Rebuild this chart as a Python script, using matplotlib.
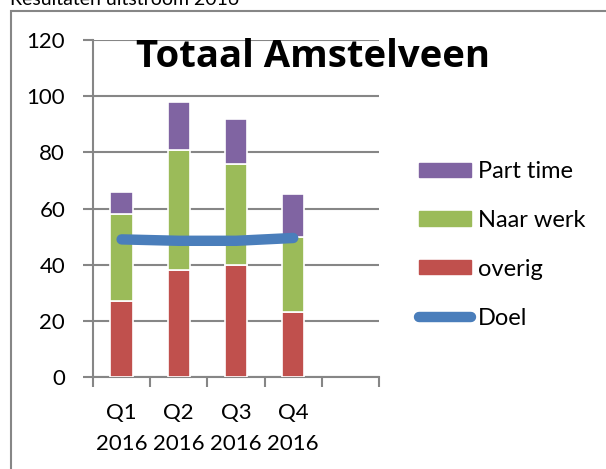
import numpy as np
import matplotlib as mpl
mpl.use('agg')
import matplotlib.pyplot as plt
from matplotlib.patches import Rectangle
from matplotlib.lines import Line2D

# data
quarters = ['Q1\n2016', 'Q2\n2016', 'Q3\n2016', 'Q4\n2016']
overig = [27, 38, 40, 23]
naar_werk = [31, 43, 36, 27]
part_time = [8, 17, 16, 15]
doel = [49, 48.5, 48.5, 49.5]
n_slots = 5  # Excel left one empty category at the end

RED = '#c0504d'
GREEN = '#9bbb59'
PURPLE = '#8064a2'
BLUE = '#4a7ebb'
GRID = '#868686'

# Lato is the closest to Calibri (Carlito is based on it)
plt.rcParams['font.family'] = ['Lato', 'DejaVu Sans']

W, H = 606, 469
fig = plt.figure(figsize=(W / 100, H / 100), dpi=100)

# outer chart frame (cut off on right/bottom)
fig.patches.append(Rectangle((11 / W, -0.1), 2.0, 1 - 11 / H + 0.1,
                             transform=fig.transFigure, fill=False,
                             edgecolor=GRID, lw=1.5))
fig.text(10 / W, 1 - 5 / H, 'Resultaten uitstroom 2016', fontsize=14,
         va='baseline', ha='left')

ax = fig.add_axes([93 / W, 1 - 377 / H, 286 / W, 337 / H])

x = np.arange(len(quarters))
w = 0.39
ax.bar(x, overig, w, color=RED, edgecolor='white', lw=1.2, zorder=3)
ax.bar(x, naar_werk, w, bottom=overig, color=GREEN, edgecolor='white', lw=1.2, zorder=3)
bot2 = np.array(overig) + np.array(naar_werk)
ax.bar(x, part_time, w, bottom=bot2, color=PURPLE, edgecolor='white', lw=1.2, zorder=3)
ax.plot(x, doel, color=BLUE, lw=7.5, solid_capstyle='round', zorder=4)

ax.set_xlim(-0.5, n_slots - 0.5)
ax.set_ylim(0, 120)
ax.set_yticks(range(0, 121, 20))
ax.yaxis.grid(True, color=GRID, lw=1.5, zorder=0)
ax.set_axisbelow(True)

ax.set_xticks(x)
ax.set_xticklabels(quarters, fontsize=16, linespacing=1.65)
ax.set_xticks(np.arange(n_slots + 1) - 0.5, minor=True)
ax.tick_params(axis='x', which='major', length=0, pad=19)
ax.tick_params(axis='x', which='minor', length=7, width=1.5, color=GRID, direction='out')
ax.tick_params(axis='y', labelsize=16, length=7, width=1.5, color=GRID, pad=13)

for s in ['top', 'right']:
    ax.spines[s].set_visible(False)
for s in ['left', 'bottom']:
    ax.spines[s].set_color(GRID)
    ax.spines[s].set_linewidth(1.5)

fig.text(313 / W, 1 - 67 / H, 'Totaal Amstelveen', fontsize=27.5,
         fontweight='bold', family=['Open Sans', 'DejaVu Sans'],
         ha='center', va='baseline')

handles = [Rectangle((0, 0), 1, 1, color=PURPLE),
           Rectangle((0, 0), 1, 1, color=GREEN),
           Rectangle((0, 0), 1, 1, color=RED),
           Line2D([], [], color=BLUE, lw=7.5, solid_capstyle='round')]
labels = ['Part time', 'Naar werk', 'overig', 'Doel']
fig.legend(handles, labels, loc='upper left', bbox_to_anchor=(419 / W, 1 - 161 / H),
           frameon=False, fontsize=17, handlelength=2.2, handleheight=0.55,
           handletextpad=0.3, labelspacing=1.18, borderaxespad=0, borderpad=0)

fig.savefig('out.png', dpi=100)
